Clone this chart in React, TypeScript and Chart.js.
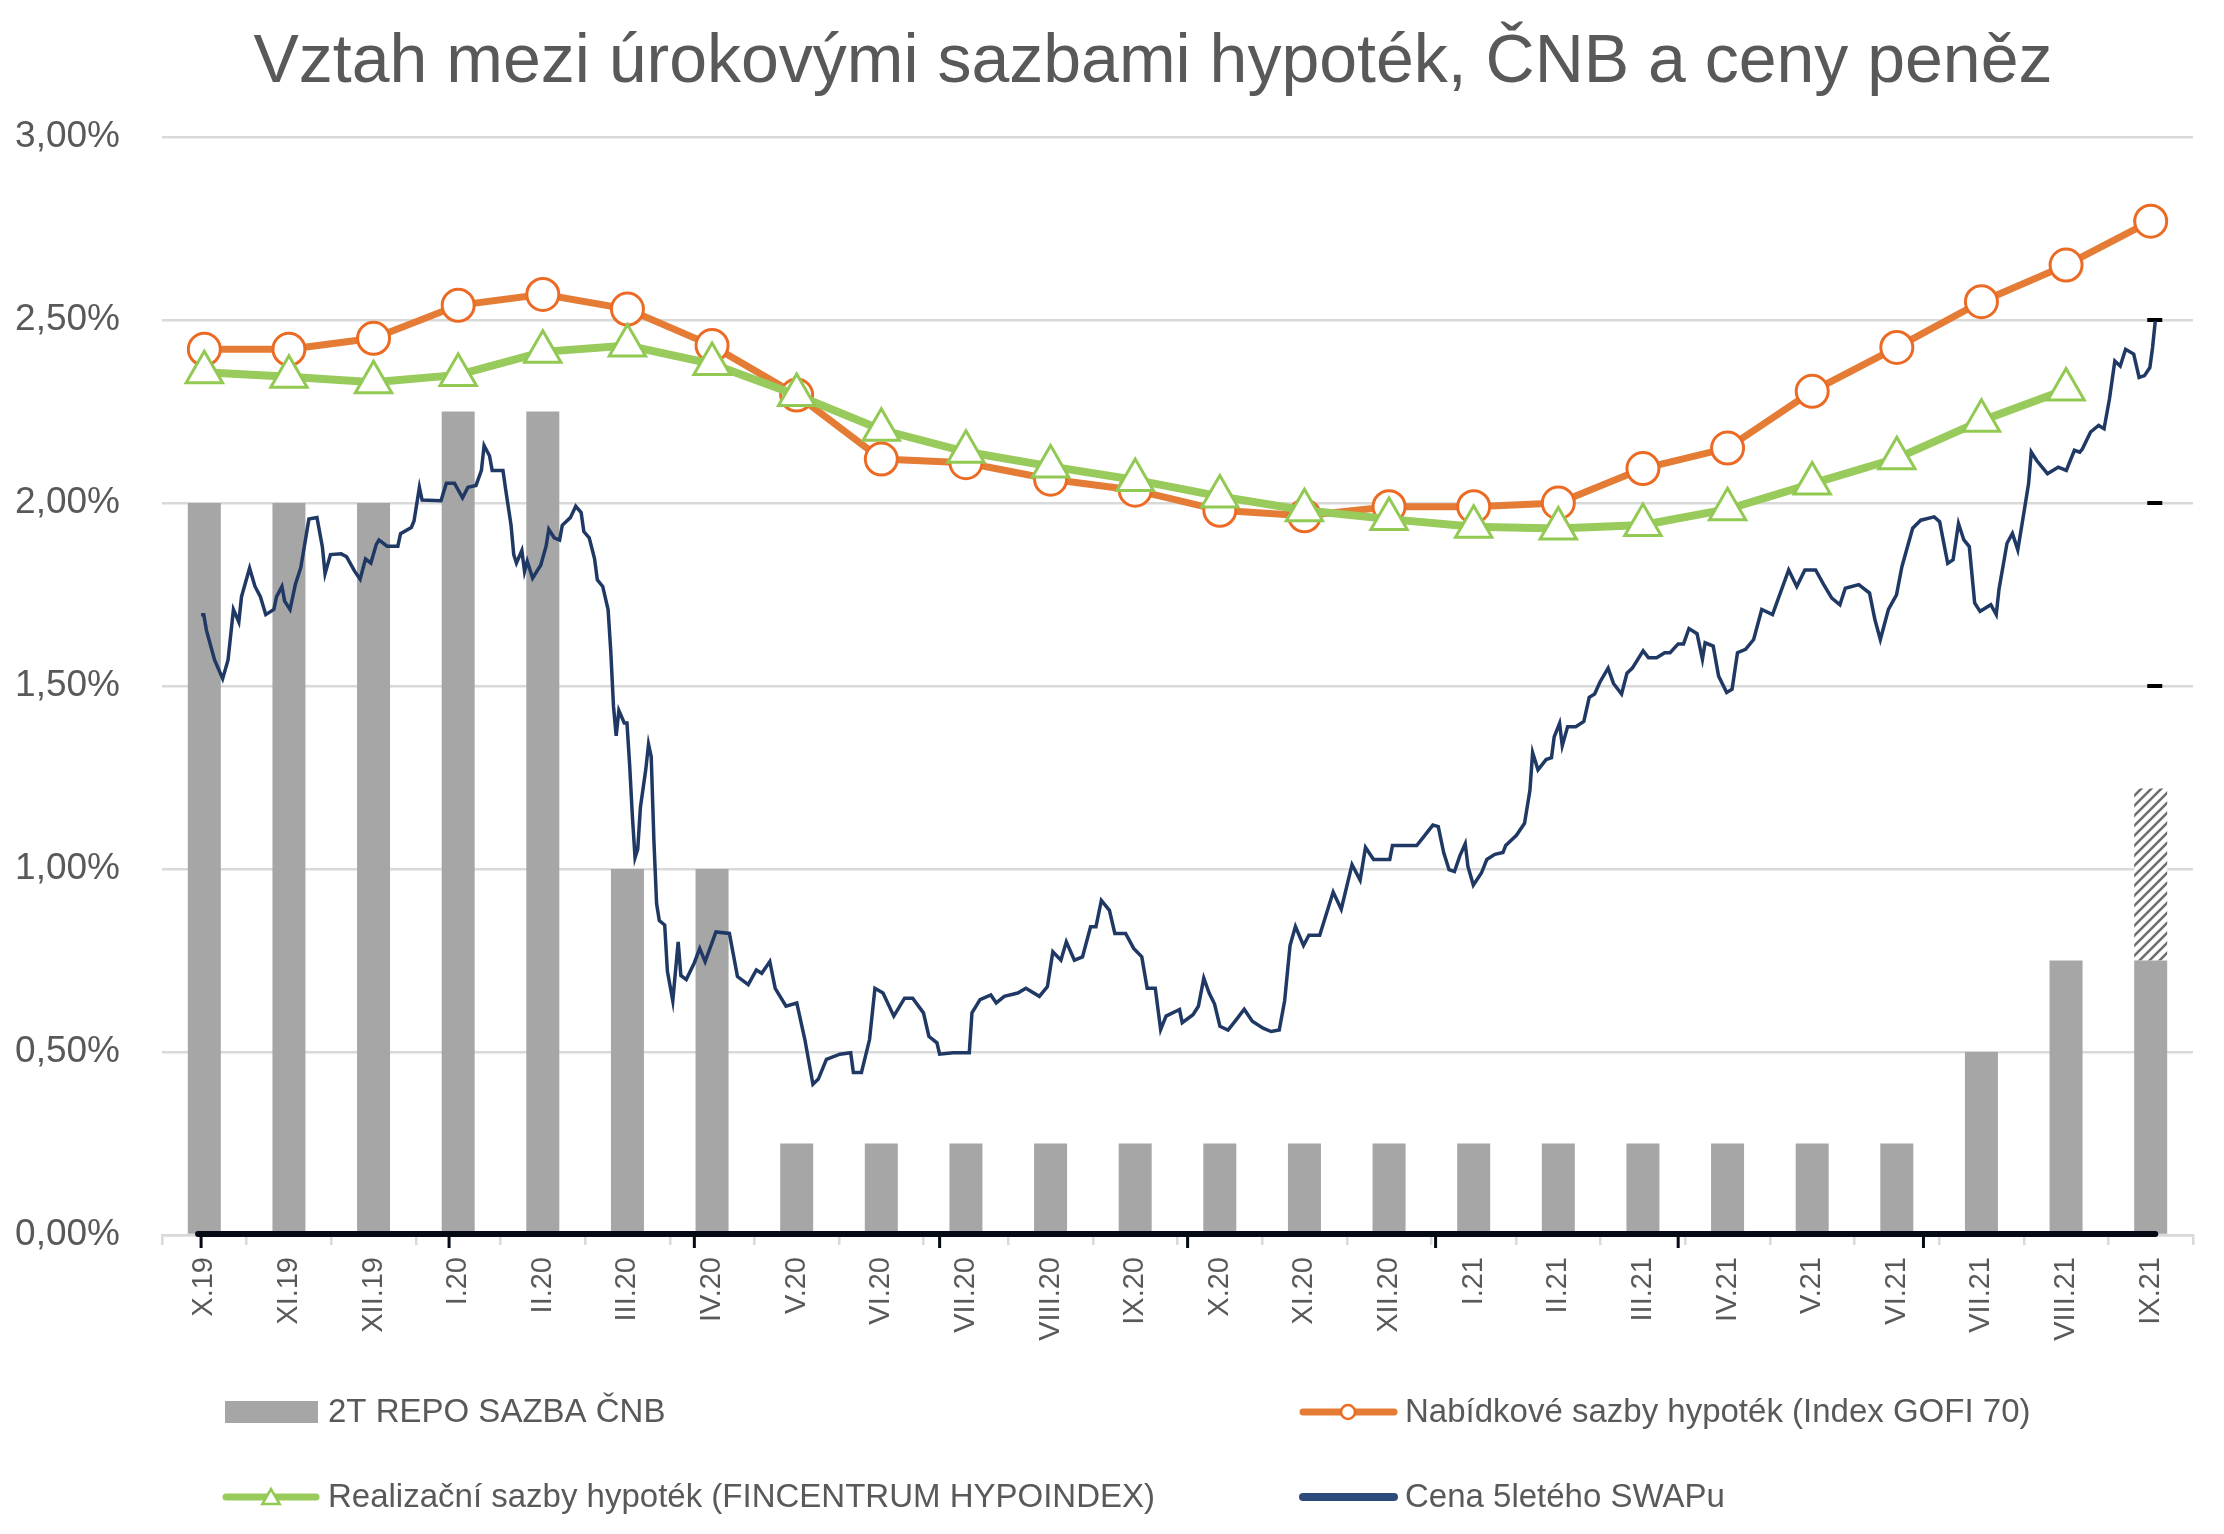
import React, { useEffect, useRef } from 'react';
import { Chart, registerables } from 'chart.js';

Chart.register(...registerables);

const FONT = "'Liberation Sans', Arial, sans-serif";
const TEXT_COLOR = '#595959';

const titleText = 'Vztah mezi úrokovými sazbami hypoték, ČNB a ceny peněz';

const months = [
  'X.19', 'XI.19', 'XII.19', 'I.20', 'II.20', 'III.20', 'IV.20', 'V.20', 'VI.20', 'VII.20', 'VIII.20', 'IX.20',
  'X.20', 'XI.20', 'XII.20', 'I.21', 'II.21', 'III.21', 'IV.21', 'V.21', 'VI.21', 'VII.21', 'VIII.21', 'IX.21',
];

// 2T repo sazba ČNB (%)
const repoRate = [
  2.0, 2.0, 2.0, 2.25, 2.25, 1.0, 1.0, 0.25, 0.25, 0.25, 0.25, 0.25,
  0.25, 0.25, 0.25, 0.25, 0.25, 0.25, 0.25, 0.25, 0.25, 0.5, 0.75, 0.75,
];

// expected repo level (hatched part on top of the last bar)
const repoOutlookTop: (number | null)[] = [
  null, null, null, null, null, null, null, null, null, null, null, null,
  null, null, null, null, null, null, null, null, null, null, null, 1.22,
];

// Nabídkové sazby hypoték (Index GOFI 70)
const gofiRates = [
  2.42, 2.42, 2.45, 2.54, 2.57, 2.53, 2.43, 2.295, 2.12, 2.11, 2.065, 2.035,
  1.98, 1.965, 1.99, 1.99, 2.0, 2.094, 2.15, 2.305, 2.425, 2.55, 2.65, 2.77,
];

// Realizační sazby hypoték (FINCENTRUM HYPOINDEX)
const hypoindexRates: (number | null)[] = [
  2.357, 2.345, 2.33, 2.35, 2.413, 2.43, 2.38, 2.295, 2.2, 2.14, 2.1, 2.063,
  2.018, 1.98, 1.956, 1.935, 1.93, 1.94, 1.983, 2.053, 2.122, 2.225, 2.31, null,
];

// Cena 5letého SWAPu – days since 1.10.2019
const swapDays = [
  0, 1, 2, 5, 8, 10, 12, 14, 15, 18, 20, 22, 24, 27, 28, 30, 31, 33, 35, 37,
  40, 43, 45, 46, 48, 52, 54, 57, 59, 61, 63, 65, 66, 69, 73, 74, 78, 79, 81, 82,
  89, 91, 94, 97, 99, 102, 104, 105, 107, 108, 112, 113, 115, 116, 117, 119, 120, 121, 123, 126,
  128, 129, 131, 133, 134, 137, 139, 141, 142, 144, 146, 147, 149, 151, 152, 153, 154, 155, 157, 158,
  159, 160, 161, 162, 163, 165, 166, 167, 168, 169, 170, 172, 173, 175, 177, 178, 180, 183, 185, 187,
  191, 196, 199, 203, 206, 208, 211, 213, 217, 221, 224, 227, 229, 232, 237, 241, 242, 245, 248, 250,
  253, 257, 261, 264, 268, 270, 273, 274, 279, 285, 286, 289, 293, 295, 298, 303, 306, 311, 314, 316,
  319, 321, 324, 327, 330, 332, 334, 337, 339, 343, 346, 349, 351, 354, 356, 358, 363, 364, 368, 370,
  372, 374, 376, 378, 381, 384, 387, 390, 394, 397, 400, 402, 404, 406, 409, 411, 415, 417, 420, 423,
  425, 427, 430, 432, 435, 441, 442, 451, 454, 457, 459, 461, 463, 465, 467, 469, 470, 472, 475, 477,
  480, 483, 484, 488, 491, 493, 494, 496, 499, 501, 502, 504, 505, 507, 510, 513, 515, 517, 519, 522,
  524, 527, 529, 531, 535, 537, 540, 543, 545, 548, 550, 552, 555, 557, 558, 561, 563, 566, 568, 570,
  573, 576, 579, 583, 585, 589, 592, 595, 599, 602, 605, 608, 610, 615, 619, 621, 623, 626, 629, 631,
  635, 638, 643, 645, 648, 650, 652, 654, 656, 658, 660, 664, 666, 667, 670, 672, 674, 676, 678, 679,
  681, 685, 689, 692, 695, 697, 698, 701, 704, 706, 708, 710, 712, 714, 717, 719, 721, 723, 724, 725,
];
const swapRates = [
  1.695, 1.695, 1.652, 1.571, 1.52, 1.571, 1.709, 1.675, 1.744, 1.822, 1.772, 1.744, 1.695, 1.709, 1.744, 1.772, 1.732, 1.709, 1.778, 1.824,
  1.956, 1.96, 1.88, 1.807, 1.859, 1.861, 1.853, 1.813, 1.792, 1.847, 1.836, 1.887, 1.899, 1.882, 1.882, 1.916, 1.933, 1.951, 2.043, 2.008,
  2.006, 2.054, 2.054, 2.014, 2.043, 2.048, 2.089, 2.157, 2.129, 2.089, 2.089, 2.037, 1.939, 1.859, 1.836, 1.87, 1.813, 1.841, 1.795, 1.83,
  1.882, 1.928, 1.905, 1.899, 1.939, 1.96, 1.991, 1.974, 1.922, 1.905, 1.847, 1.79, 1.772, 1.709, 1.594, 1.445, 1.364, 1.433, 1.399, 1.399,
  1.284, 1.146, 1.031, 1.054, 1.169, 1.273, 1.341, 1.307, 1.077, 0.905, 0.859, 0.847, 0.721, 0.64, 0.801, 0.709, 0.698, 0.744, 0.783, 0.747,
  0.828, 0.824, 0.706, 0.684, 0.724, 0.715, 0.747, 0.674, 0.625, 0.634, 0.534, 0.412, 0.426, 0.48, 0.494, 0.498, 0.444, 0.444, 0.534, 0.674,
  0.661, 0.598, 0.647, 0.647, 0.607, 0.543, 0.525, 0.494, 0.498, 0.498, 0.607, 0.643, 0.656, 0.634, 0.652, 0.661, 0.674, 0.652, 0.679, 0.774,
  0.751, 0.801, 0.751, 0.76, 0.842, 0.842, 0.914, 0.887, 0.824, 0.824, 0.783, 0.76, 0.674, 0.674, 0.561, 0.598, 0.616, 0.58, 0.602, 0.625,
  0.702, 0.661, 0.631, 0.57, 0.56, 0.588, 0.617, 0.584, 0.565, 0.556, 0.56, 0.64, 0.791, 0.843, 0.791, 0.819, 0.819, 0.866, 0.937, 0.89,
  0.951, 1.012, 0.97, 1.059, 1.026, 1.026, 1.064, 1.064, 1.092, 1.12, 1.116, 1.045, 0.998, 0.993, 1.036, 1.069, 1.007, 0.956, 0.989, 1.026,
  1.04, 1.045, 1.064, 1.092, 1.125, 1.215, 1.318, 1.271, 1.299, 1.304, 1.361, 1.398, 1.337, 1.389, 1.389, 1.403, 1.469, 1.478, 1.511, 1.549,
  1.507, 1.478, 1.535, 1.549, 1.596, 1.577, 1.577, 1.591, 1.591, 1.615, 1.615, 1.657, 1.643, 1.573, 1.618, 1.609, 1.527, 1.482, 1.491, 1.591,
  1.6, 1.627, 1.709, 1.695, 1.736, 1.817, 1.772, 1.817, 1.817, 1.777, 1.74, 1.722, 1.767, 1.777, 1.754, 1.681, 1.627, 1.709, 1.749, 1.826,
  1.931, 1.953, 1.962, 1.949, 1.835, 1.845, 1.944, 1.899, 1.881, 1.727, 1.704, 1.722, 1.695, 1.763, 1.89, 1.917, 1.872, 1.962, 2.053, 2.139,
  2.116, 2.08, 2.098, 2.089, 2.144, 2.139, 2.148, 2.194, 2.212, 2.203, 2.284, 2.388, 2.374, 2.42, 2.407, 2.343, 2.348, 2.37, 2.425, 2.497,
];

// secondary (date) axis of the SWAP series: quarterly ticks (days since 1.10.2019)
const swapAxisTickDays = [0, 92, 183, 274, 366, 458, 548, 639];
const swapAxisMin = -14.5;
const swapAxisMax = 739;
// secondary value axis tick marks
const swapValueTicks = [0.5, 1.0, 1.5, 2.0, 2.5];

const legendLabels = [
  '2T REPO SAZBA ČNB',
  'Nabídkové sazby hypoték (Index GOFI 70)',
  'Realizační sazby hypoték (FINCENTRUM HYPOINDEX)',
  'Cena 5letého SWAPu',
];

const COLORS = {
  bar: '#A6A6A6',
  hatch: '#6E6E6E',
  orange: '#E57C35',
  orangeMarker: '#EC6B24',
  green: '#98CB5C',
  greenMarker: '#92C953',
  navy: '#1F3864',
  navyLegend: '#2C4B7B',
  grid: '#D9D9D9',
};

function drawTriangle(ctx: CanvasRenderingContext2D, x: number, y: number, r: number) {
  ctx.beginPath();
  for (let k = 0; k < 3; k++) {
    const a = -Math.PI / 2 + (k * 2 * Math.PI) / 3;
    const px = x + Math.cos(a) * r;
    const py = y + Math.sin(a) * r;
    if (k === 0) ctx.moveTo(px, py);
    else ctx.lineTo(px, py);
  }
  ctx.closePath();
}

const overlayPlugin = {
  id: 'overlay',
  beforeDatasetsDraw(chart: any) {
    const { ctx, scales } = chart;
    const xs = scales.xs;
    const y = scales.y;
    const cx = xs.getPixelForValue(swapDays[swapDays.length - 1]);
    ctx.save();
    ctx.fillStyle = '#000';
    swapValueTicks.forEach((v) => {
      const py = y.getPixelForValue(v);
      ctx.fillRect(cx - 8, py - 2, 15, 4);
    });
    ctx.restore();
  },
  afterDatasetsDraw(chart: any) {
    const { ctx, scales } = chart;
    const xs = scales.xs;
    const y = scales.y;
    const y0 = y.getPixelForValue(0);
    const xStart = xs.getPixelForValue(swapDays[0]) - 3;
    const xEnd = xs.getPixelForValue(swapDays[swapDays.length - 1]);
    ctx.save();
    ctx.strokeStyle = '#050a14';
    ctx.lineWidth = 6;
    ctx.lineCap = 'round';
    ctx.beginPath();
    ctx.moveTo(xStart, y0 - 1);
    ctx.lineTo(xEnd, y0 - 1);
    ctx.stroke();
    ctx.lineCap = 'butt';
    ctx.lineWidth = 3;
    swapAxisTickDays.forEach((d) => {
      const px = xs.getPixelForValue(d);
      ctx.beginPath();
      ctx.moveTo(px, y0);
      ctx.lineTo(px, y0 + 13);
      ctx.stroke();
    });
    ctx.restore();
  },
  afterDraw(chart: any) {
    const { ctx } = chart;
    ctx.save();
    // title
    ctx.fillStyle = TEXT_COLOR;
    ctx.font = `68px ${FONT}`;
    ctx.textAlign = 'center';
    ctx.textBaseline = 'alphabetic';
    ctx.fillText(titleText, 1153, 82);

    // legend
    ctx.font = `33px ${FONT}`;
    ctx.textAlign = 'left';
    ctx.textBaseline = 'middle';
    const row1 = 1412;
    const row2 = 1497;
    // 1: bar box
    ctx.fillStyle = COLORS.bar;
    ctx.fillRect(225, row1 - 11, 93, 22);
    ctx.fillStyle = TEXT_COLOR;
    ctx.fillText(legendLabels[0], 328, row1 + 1);
    // 2: orange line with circle
    ctx.strokeStyle = COLORS.orange;
    ctx.lineWidth = 7;
    ctx.lineCap = 'round';
    ctx.beginPath();
    ctx.moveTo(1303, row1);
    ctx.lineTo(1394, row1);
    ctx.stroke();
    ctx.beginPath();
    ctx.arc(1348, row1, 7, 0, Math.PI * 2);
    ctx.fillStyle = '#fff';
    ctx.fill();
    ctx.lineWidth = 2.5;
    ctx.strokeStyle = COLORS.orangeMarker;
    ctx.stroke();
    ctx.fillStyle = TEXT_COLOR;
    ctx.fillText(legendLabels[1], 1405, row1 + 1);
    // 3: green line with triangle
    ctx.strokeStyle = COLORS.green;
    ctx.lineWidth = 7;
    ctx.beginPath();
    ctx.moveTo(226, row2);
    ctx.lineTo(316, row2);
    ctx.stroke();
    drawTriangle(ctx, 271, row2 + 2, 10);
    ctx.fillStyle = '#fff';
    ctx.fill();
    ctx.lineWidth = 2.5;
    ctx.strokeStyle = COLORS.greenMarker;
    ctx.stroke();
    ctx.fillStyle = TEXT_COLOR;
    ctx.fillText(legendLabels[2], 328, row2 + 1);
    // 4: navy line
    ctx.strokeStyle = COLORS.navyLegend;
    ctx.lineWidth = 8;
    ctx.beginPath();
    ctx.moveTo(1303, row2);
    ctx.lineTo(1394, row2);
    ctx.stroke();
    ctx.fillStyle = TEXT_COLOR;
    ctx.fillText(legendLabels[3], 1405, row2 + 1);
    ctx.restore();
  },
};

export default function App() {
  const canvasRef = useRef<HTMLCanvasElement | null>(null);

  useEffect(() => {
    document.body.style.margin = '0';
    const canvas = canvasRef.current;
    if (!canvas) return;
    const ctx = canvas.getContext('2d');
    if (!ctx) return;

    // hatch pattern for the expected part of the repo bar
    const tile = document.createElement('canvas');
    tile.width = 10;
    tile.height = 10;
    const tctx = tile.getContext('2d')!;
    tctx.fillStyle = '#ffffff';
    tctx.fillRect(0, 0, 10, 10);
    tctx.strokeStyle = COLORS.hatch;
    tctx.lineWidth = 2.6;
    tctx.beginPath();
    tctx.moveTo(-2, 12);
    tctx.lineTo(12, -2);
    tctx.moveTo(-2, 2);
    tctx.lineTo(2, -2);
    tctx.moveTo(8, 12);
    tctx.lineTo(12, 8);
    tctx.stroke();
    const hatch = ctx.createPattern(tile, 'repeat') || COLORS.hatch;

    const outlookData = months.map((_, i) =>
      repoOutlookTop[i] == null ? null : [repoRate[i], repoOutlookTop[i] as number]
    );
    const swapData = swapDays.map((d, i) => ({ x: d, y: swapRates[i] }));

    const chart = new Chart(ctx, {
      type: 'bar',
      data: {
        labels: months,
        datasets: [
          {
            type: 'bar',
            label: legendLabels[0],
            data: repoRate,
            backgroundColor: COLORS.bar,
            borderWidth: 0,
            categoryPercentage: 1,
            barPercentage: 0.39,
            grouped: false,
            xAxisID: 'x',
            yAxisID: 'y',
            order: 5,
          } as any,
          {
            type: 'bar',
            label: 'outlook',
            data: outlookData as any,
            backgroundColor: hatch as any,
            borderWidth: 0,
            categoryPercentage: 1,
            barPercentage: 0.39,
            grouped: false,
            xAxisID: 'x',
            yAxisID: 'y',
            order: 5,
          } as any,
          {
            type: 'line',
            label: legendLabels[3],
            data: swapData as any,
            borderColor: COLORS.navy,
            borderWidth: 3.5,
            pointRadius: 0,
            tension: 0,
            xAxisID: 'xs',
            yAxisID: 'y',
            order: 3,
          } as any,
          {
            type: 'line',
            label: legendLabels[1],
            data: gofiRates,
            borderColor: COLORS.orange,
            borderWidth: 7,
            pointStyle: 'circle',
            pointRadius: 16,
            pointBorderWidth: 3,
            pointBackgroundColor: '#ffffff',
            pointBorderColor: COLORS.orangeMarker,
            tension: 0,
            xAxisID: 'x',
            yAxisID: 'y',
            order: 2,
          } as any,
          {
            type: 'line',
            label: legendLabels[2],
            data: hypoindexRates,
            borderColor: COLORS.green,
            borderWidth: 8,
            pointStyle: 'triangle',
            pointRadius: 21,
            pointBorderWidth: 3,
            pointBackgroundColor: '#ffffff',
            pointBorderColor: COLORS.greenMarker,
            tension: 0,
            xAxisID: 'x',
            yAxisID: 'y',
            order: 1,
          } as any,
        ],
      },
      options: {
        responsive: false,
        maintainAspectRatio: false,
        animation: false,
        devicePixelRatio: 1,
        events: [],
        layout: { padding: { left: 0, top: 137, right: 31, bottom: 179 } },
        plugins: {
          legend: { display: false },
          title: { display: false },
          tooltip: { enabled: false },
        },
        scales: {
          x: {
            type: 'category',
            position: 'bottom',
            offset: true,
            grid: {
              display: true,
              drawOnChartArea: false,
              drawTicks: true,
              tickLength: 10,
              color: COLORS.grid,
              lineWidth: 2.5,
              offset: true,
            },
            border: { display: true, color: COLORS.grid, width: 2.5 },
            ticks: {
              autoSkip: false,
              minRotation: 90,
              maxRotation: 90,
              padding: 12,
              color: TEXT_COLOR,
              font: { family: FONT, size: 29 },
            },
            afterFit: (scale: any) => {
              scale.height = 120;
            },
          },
          xs: {
            type: 'linear',
            display: false,
            offset: false,
            grid: { offset: false },
            min: swapAxisMin,
            max: swapAxisMax,
          },
          y: {
            type: 'linear',
            min: 0,
            max: 3,
            grid: {
              color: COLORS.grid,
              lineWidth: 2.5,
              drawTicks: false,
            },
            border: { display: false },
            ticks: {
              stepSize: 0.5,
              padding: 42,
              color: TEXT_COLOR,
              font: { family: FONT, size: 37 },
              callback: (v: any) => Number(v).toFixed(2).replace('.', ',') + '%',
            },
            afterFit: (scale: any) => {
              scale.width = 162;
            },
          },
        },
      } as any,
      plugins: [overlayPlugin],
    });

    return () => {
      chart.destroy();
    };
  }, []);

  return (
    <div style={{ position: 'absolute', left: 0, top: 0, width: 2224, height: 1534, background: '#ffffff' }}>
      <canvas ref={canvasRef} width={2224} height={1534} style={{ width: 2224, height: 1534, display: 'block' }} />
    </div>
  );
}
